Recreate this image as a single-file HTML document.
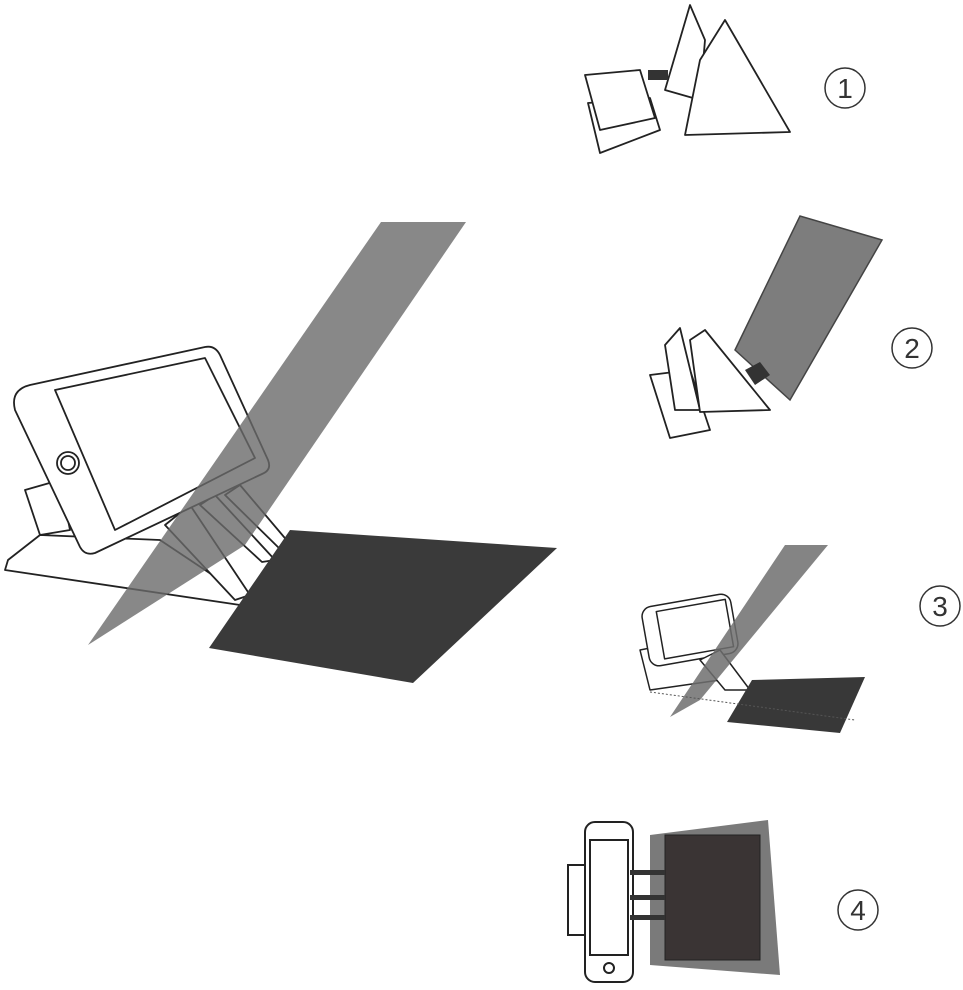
<!DOCTYPE html>
<html><head><meta charset="utf-8"><style>
html,body{margin:0;padding:0;background:#fff;}
svg{display:block}
</style></head><body>
<svg width="963" height="990" viewBox="0 0 963 990" xmlns="http://www.w3.org/2000/svg" font-family="Liberation Sans, sans-serif">
<g fill="none" stroke="#222" stroke-width="1.8" stroke-linejoin="round">
<!-- main scene base -->
<polygon points="8,560 40,535 160,540 250,600 240,605 5,570" fill="#fff"/>
<polygon points="25,490 60,480 70,530 40,535" fill="#fff"/>
<!-- stands -->
<polygon points="165,525 190,505 250,595 235,600" fill="#fff"/>
<polygon points="200,505 215,495 275,560 262,562" fill="#fff"/>
<polygon points="225,495 240,485 295,550 283,552" fill="#fff"/>
<!-- phone -->
<path d="M30,385 L205,347 Q215,345 220,355 L268,460 Q272,470 262,474 L95,553 Q85,556 80,547 L15,410 Q10,390 30,385 Z" fill="#fff"/>
<path d="M55,390 L205,358 L255,458 L115,530 Z" fill="#fff"/>
<circle cx="68" cy="463" r="11"/><circle cx="68" cy="463" r="7"/>
</g>
<!-- dark paper -->
<polygon points="290,530 557,548 413,683 209,648" fill="#3a3a3a"/>
<!-- glass plane -->
<polygon points="381,222 466,222 245,545 88,645" fill="#6a6a6a" fill-opacity="0.8"/>

<!-- step 1 -->
<g fill="#fff" stroke="#222" stroke-width="1.8" stroke-linejoin="round">
<polygon points="588,103 650,98 660,130 600,153"/>
<polygon points="585,75 640,70 655,118 600,130"/>
<polygon points="665,90 690,5 705,40 700,100"/>
<polygon points="700,60 725,20 790,132 685,135"/>
<rect x="648" y="70" width="20" height="10" fill="#333" stroke="none"/>
</g>
<!-- step 2 -->
<g fill="#fff" stroke="#222" stroke-width="1.8" stroke-linejoin="round">
<polygon points="650,375 690,370 710,430 670,438"/>
<polygon points="665,345 680,328 700,410 675,410"/>
<polygon points="690,340 705,330 770,410 700,412"/>
</g>
<polygon points="735,350 800,216 882,240 790,400" fill="#7d7d7d" stroke="#444" stroke-width="1.5"/>
<polygon points="745,370 760,362 770,375 755,385" fill="#333"/>
<!-- step 3 -->
<g fill="#fff" stroke="#222" stroke-width="1.5" stroke-linejoin="round">
<polygon points="640,650 690,640 720,680 650,690"/>
<g transform="rotate(-10 690 630)"><rect x="645" y="600" width="90" height="60" rx="10"/><rect x="660" y="606" width="70" height="48"/></g>
<polygon points="700,660 720,650 750,690 725,690"/>
</g>
<polygon points="752,680 865,677 840,733 727,722" fill="#383838"/>
<polygon points="785,545 828,545 700,700 670,717" fill="#6f6f6f" fill-opacity="0.85"/>
<line x1="650" y1="692" x2="855" y2="720" stroke="#555" stroke-dasharray="2,2"/>
<!-- step 4 -->
<polygon points="650,835 768,820 780,975 650,965" fill="#7a7a7a"/>
<rect x="665" y="835" width="95" height="125" fill="#3a3434" stroke="#222"/>
<g fill="#fff" stroke="#222" stroke-width="2">
<rect x="568" y="865" width="20" height="70"/>
<rect x="585" y="822" width="48" height="160" rx="10"/>
<rect x="590" y="840" width="38" height="115"/>
<circle cx="609" cy="968" r="5"/>
</g>
<g fill="#333"><rect x="630" y="870" width="35" height="5"/><rect x="630" y="895" width="35" height="5"/><rect x="630" y="915" width="35" height="5"/></g>
<!-- numbers -->
<g fill="none" stroke="#333" stroke-width="1.5">
<circle cx="845" cy="88" r="20"/><circle cx="912" cy="348" r="20"/>
<circle cx="940" cy="606" r="20"/><circle cx="858" cy="910" r="20"/>
</g>
<g font-size="28" fill="#333" text-anchor="middle">
<text x="845" y="98">1</text><text x="912" y="358">2</text>
<text x="940" y="616">3</text><text x="858" y="920">4</text>
</g>
</svg>
</body></html>
